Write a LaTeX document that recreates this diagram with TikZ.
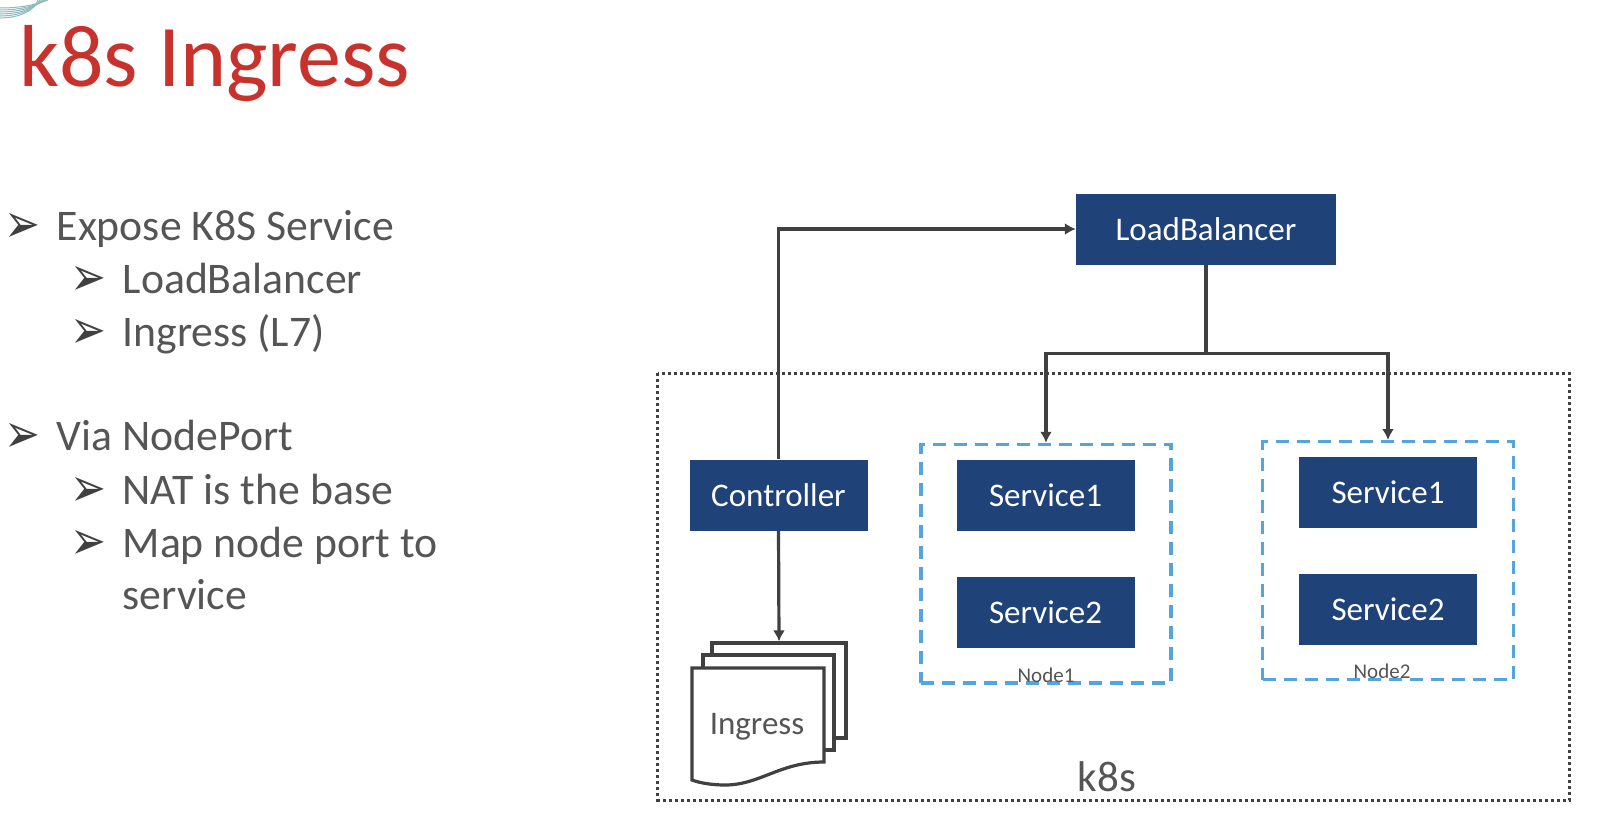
\documentclass[tikz,border=0pt]{standalone}
\usepackage{fontspec}
\usepackage{xcolor}
\setmainfont{Carlito}
\newfontfamily\dingfont{DejaVu Sans}
\usetikzlibrary{arrows.meta}
\definecolor{boxblue}{HTML}{1F4279}
\definecolor{titlered}{HTML}{C8322D}
\definecolor{bodygrey}{HTML}{555555}
\definecolor{linegrey}{HTML}{404040}
\definecolor{nodeblue}{HTML}{55A5DC}
\definecolor{swirlteal}{HTML}{8FB9BE}
\newcommand{\arrowbullet}{\scalebox{1.1}[1.4]{\dingfont ➢}}
\tikzset{
  bluebox/.style={fill=boxblue, text=white, font=\fontsize{33}{33}\selectfont, inner sep=0pt},
  bullet/.style={anchor=base west, inner sep=0pt, text=linegrey, font=\fontsize{39}{39}\selectfont},
  bodytext/.style={anchor=base west, inner sep=0pt, text=bodygrey, font=\fontsize{43.7}{44}\selectfont},
  conn/.style={draw=linegrey, line width=3.2pt, -{Latex[length=11pt,width=12pt]}},
  page/.style={draw=linegrey, line width=3.2pt, fill=white, inner sep=0pt},
  nodeframe/.style={draw=nodeblue, line width=3.4pt, dash pattern=on 13pt off 8pt},
  smalltext/.style={inner sep=0pt, text=bodygrey, font=\fontsize{21}{21}\selectfont}
}
\begin{document}
\begin{tikzpicture}[x=1pt,y=-1pt]
    \useasboundingbox (0,0) rectangle (1616,830);
    % corner swirl
    \foreach \i in {0,2,...,10}
        \draw [swirlteal, line width=1pt] (0,8+\i) .. controls (20,8+\i) and (35,5+\i/2) .. (48-\i,0);
    % title
    \node (title) [anchor=base west, inner sep=0pt, text=titlered, font=\fontsize{88}{88}\selectfont] at (19,86) {k8s Ingress};
    % bullets
    \node (b1) [bullet] at (4,242) {\arrowbullet};
    \node (t1) [bodytext] at (56.5,240) {Expose K8S Service};
    \node (b2) [bullet] at (70,295) {\arrowbullet};
    \node (t2) [bodytext] at (122.5,293) {LoadBalancer};
    \node (b3) [bullet] at (70,348) {\arrowbullet};
    \node (t3) [bodytext] at (122.5,346) {Ingress (L7)};
    \node (b4) [bullet] at (4,452) {\arrowbullet};
    \node (t4) [bodytext] at (56.5,450) {Via NodePort};
    \node (b5) [bullet] at (70,506) {\arrowbullet};
    \node (t5) [bodytext] at (122.5,504) {NAT is the base};
    \node (b6) [bullet] at (70,559) {\arrowbullet};
    \node (t6) [bodytext] at (122.5,557) {Map node port to};
    \node (t7) [bodytext] at (122.5,609) {service};
    % k8s frame
    \draw [linegrey, line width=3pt, dash pattern=on 3pt off 3pt] (657.5,373) rectangle (1569,800);
    \node (k8s) [inner sep=0pt, anchor=base, text=bodygrey, font=\fontsize{43}{43}\selectfont] at (1107,791) {k8s};
    % boxes
    \node (lb) [bluebox, minimum width=260pt, minimum height=71pt] at (1206,229) {LoadBalancer};
    \node (ctrl) [bluebox, minimum width=178pt, minimum height=71pt] at (778.5,495) {Controller};
    \node (svcA) [bluebox, minimum width=178pt, minimum height=71pt] at (1045.5,495) {Service1};
    \node (svcB) [bluebox, minimum width=178pt, minimum height=71pt] at (1045.5,612) {Service2};
    \node (svcC) [bluebox, minimum width=178pt, minimum height=71pt] at (1388,492.5) {Service1};
    \node (svcD) [bluebox, minimum width=178pt, minimum height=71pt] at (1388,609.5) {Service2};
    % node frames
    \node (nodeA) [nodeframe, inner sep=0pt, minimum width=250pt, minimum height=238.5pt] at (1046,563.7) {};
    \node (nodeB) [nodeframe, inner sep=0pt, minimum width=251pt, minimum height=238pt] at (1388,560.7) {};
    \node (nodeAlabel) [smalltext] at (1046,675) {Node1};
    \node (nodeBlabel) [smalltext] at (1382,671) {Node2};
    % ingress pages
    \node (pageC) [page, minimum width=134pt, minimum height=95pt] at (779,690.5) {};
    \node (pageB) [page, minimum width=131pt, minimum height=95pt] at (768.5,702.5) {};
    \coordinate (pageNW) at (692,668);
    \coordinate (pageNE) at (824,668);
    \coordinate (pageSE) at (824,762);
    \coordinate (pageSW) at (692,780);
    \draw [page] (pageNW) -- (pageNE) -- (pageSE)
        .. controls (780,762) and (760,785) .. (725,785)
        .. controls (712,785) and (700,783) .. (pageSW) -- cycle;
    \node (ingress) [inner sep=0pt, text=bodygrey, font=\fontsize{33}{33}\selectfont] at (757,727) {Ingress};
    % connectors
    \coordinate (bus) at (lb.south |- 0,353.6);
    \draw [conn] (ctrl.north) |- (lb.west);
    \draw [conn] (lb.south) -- (bus) -| (nodeA.north);
    \draw [conn] (lb.south) -- (bus) -| (nodeB.north);
    \draw [linegrey, line width=4.6pt] (lb.south) -- (bus);
    \draw [conn] (ctrl.south) -- (pageC.north);
\end{tikzpicture}
\end{document}
